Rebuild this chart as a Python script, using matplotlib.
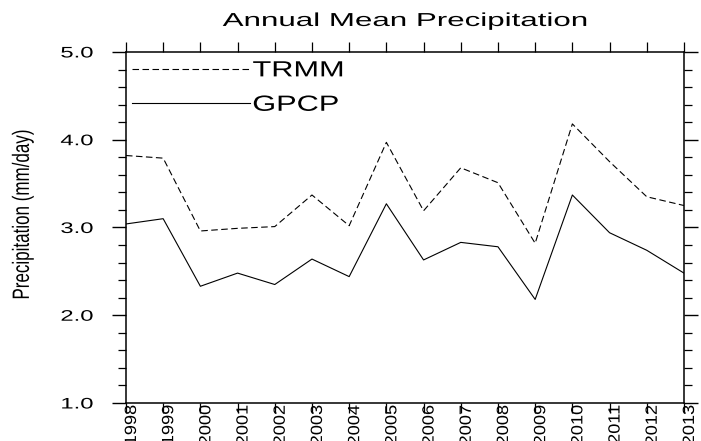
import matplotlib
matplotlib.use('Agg')
import matplotlib.pyplot as plt
from matplotlib.patheffects import AbstractPathEffect
from matplotlib.transforms import Affine2D, ScaledTranslation
from matplotlib.ticker import MultipleLocator

plt.rcParams['font.family'] = ['Liberation Sans', 'DejaVu Sans']
plt.rcParams['lines.scale_dashes'] = False

# ── Data ──────────────────────────────────────────────────────────────────────
years = list(range(1998, 2014))
trmm = [3.82, 3.79, 2.96, 2.99, 3.01, 3.37, 3.02, 3.97,
        3.19, 3.68, 3.51, 2.82, 4.18, 3.75, 3.35, 3.25]
gpcp = [3.04, 3.10, 2.33, 2.48, 2.35, 2.64, 2.44, 3.27,
        2.63, 2.83, 2.78, 2.18, 3.37, 2.94, 2.74, 2.48]
series_names = ["TRMM", "GPCP"]
ytick_vals = [1.0, 2.0, 3.0, 4.0, 5.0]


class Stretch(AbstractPathEffect):
    """Scale glyphs horizontally - NCL's helvetica is a lot wider than Arial."""
    def __init__(self, sx, anchor="center"):
        super().__init__()
        self.sx = sx
        self.anchor = anchor

    def draw_path(self, renderer, gc, tpath, affine, rgbFace=None):
        ext = tpath.get_extents()
        x0 = {"left": ext.x0, "center": 0.5 * (ext.x0 + ext.x1),
              "right": ext.x1}[self.anchor]
        st = Affine2D().translate(-x0, 0).scale(self.sx, 1).translate(x0, 0)
        renderer.draw_path(gc, tpath, st + affine, rgbFace)


fig = plt.figure(figsize=(7.01, 4.41), dpi=100)
ax = fig.add_axes([0.1797, 0.0862, 0.796, 0.796])

ax.plot(years, trmm, color="black", lw=0.8, dashes=(4.7, 2.5), label=series_names[0])
ax.plot(years, gpcp, color="black", lw=0.8, label=series_names[1])

ax.set_xlim(years[0], years[-1])
ax.set_ylim(ytick_vals[0], ytick_vals[-1])
ax.set_xticks(years)
ax.set_xticklabels([str(y) for y in years], rotation=90)
ax.set_yticks(ytick_vals)
ax.set_yticklabels([f"{v:.1f}" for v in ytick_vals])
ax.yaxis.set_minor_locator(MultipleLocator(0.2))

for sp in ax.spines.values():
    sp.set_linewidth(1.1)

ax.tick_params(axis="y", which="major", direction="out", length=10, width=1.0,
               left=True, right=True, labelsize=11, pad=13.7)
ax.tick_params(axis="y", which="minor", direction="out", length=5.8, width=0.9,
               left=True, right=True)
ax.tick_params(axis="x", which="major", direction="out", length=7.2, width=0.9,
               top=True, bottom=True, labelsize=11.7, pad=-5.8)

# x labels sit a bit right of their tick in the original and run off the bottom
shift = ScaledTranslation(5.5 / 100, 0, fig.dpi_scale_trans)
for lbl in ax.get_xticklabels():
    lbl.set_transform(lbl.get_transform() + shift)
    lbl.set_path_effects([Stretch(1.12, "right")])
for lbl in ax.get_yticklabels():
    lbl.set_path_effects([Stretch(1.56, "right")])

title = ax.set_title("Annual Mean Precipitation", fontsize=13.5, y=1.074, pad=0)
title.set_path_effects([Stretch(1.67)])

ylab = ax.set_ylabel("Precipitation (mm/day)", fontsize=17)
ax.yaxis.set_label_coords(-0.165, 0.538)
ylab.set_path_effects([Stretch(0.72)])

leg = ax.legend(loc="upper left", bbox_to_anchor=(0.0108, 0.976), frameon=False,
                fontsize=15.8, handlelength=5.4, handletextpad=0.1,
                labelspacing=0.61, borderpad=0, borderaxespad=0)
for t in leg.get_texts():
    t.set_path_effects([Stretch(1.4, "left")])

fig.savefig("out.png", dpi=100)
